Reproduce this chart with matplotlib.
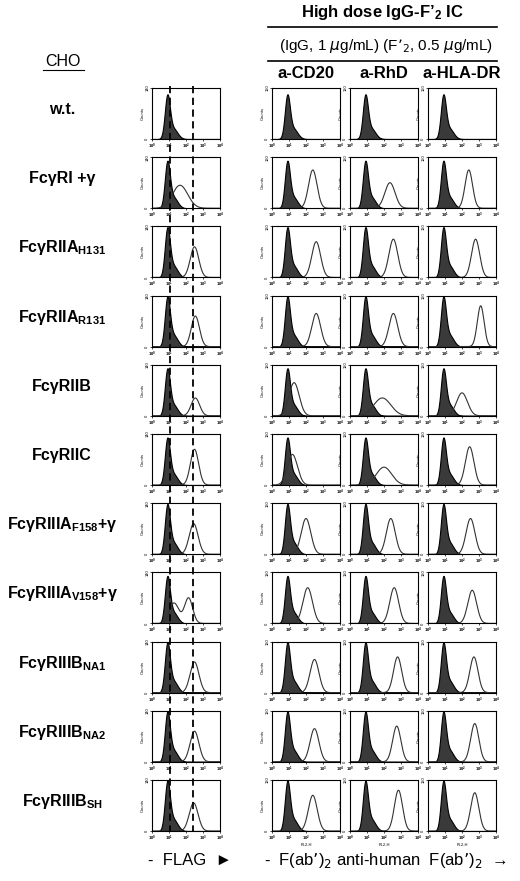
import matplotlib.pyplot as plt
import numpy as np

plt.rcParams['font.family'] = ['Liberation Sans', 'DejaVu Sans']
plt.rcParams['mathtext.fontset'] = 'custom'
plt.rcParams['mathtext.rm'] = 'Liberation Sans:bold'
plt.rcParams['mathtext.it'] = 'Liberation Sans:bold:italic'

rows = ["w.t.", "FcγRI +γ", "FcγRIIA$_{\\mathrm{H131}}$", "FcγRIIA$_{\\mathrm{R131}}$",
        "FcγRIIB", "FcγRIIC", "FcγRIIIA$_{\\mathrm{F158}}$+γ", "FcγRIIIA$_{\\mathrm{V158}}$+γ",
        "FcγRIIIB$_{\\mathrm{NA1}}$", "FcγRIIIB$_{\\mathrm{NA2}}$", "FcγRIIIB$_{\\mathrm{SH}}$"]
columns = ["a-CD20", "a-RhD", "a-HLA-DR"]

# filled (control) peak: position (log10) and height
ctrl_pos = [0.9, 0.9, 0.9, 0.9, 0.9, 0.9, 0.9, 0.9, 0.9, 0.9, 0.9]
ctrl_height = [0.8, 0.85, 0.9, 0.9, 0.85, 0.85, 0.9, 0.85, 0.9, 0.9, 0.9]

# open (stained) peaks per panel: list of (pos, width, height); 4 panels per row
open_peaks = [
    [[], [], [], []],
    [[(1.65, 0.45, 0.45)], [(2.4, 0.25, 0.75)], [(2.35, 0.3, 0.5)], [(2.4, 0.22, 0.75)]],
    [[(2.5, 0.25, 0.6)], [(2.6, 0.26, 0.7)], [(2.55, 0.26, 0.75)], [(2.8, 0.24, 0.75)]],
    [[(2.55, 0.24, 0.6)], [(2.6, 0.26, 0.65)], [(2.55, 0.26, 0.65)], [(3.1, 0.2, 0.8)]],
    [[(2.55, 0.25, 0.35)], [(1.3, 0.3, 0.65)], [(1.9, 0.5, 0.35)], [(2.0, 0.32, 0.45)]],
    [[(2.5, 0.24, 0.7)], [(1.2, 0.3, 0.6)], [(2.0, 0.45, 0.35)], [(2.45, 0.25, 0.75)]],
    [[(2.45, 0.26, 0.6)], [(2.0, 0.28, 0.7)], [(2.4, 0.26, 0.7)], [(2.5, 0.26, 0.7)]],
    [[(1.3, 0.28, 0.4), (2.15, 0.24, 0.5)], [(2.1, 0.28, 0.7)], [(2.6, 0.26, 0.7)], [(2.6, 0.26, 0.65)]],
    [[(2.5, 0.26, 0.6)], [(2.5, 0.26, 0.65)], [(2.8, 0.24, 0.7)], [(2.7, 0.24, 0.7)]],
    [[(2.5, 0.26, 0.6)], [(2.5, 0.26, 0.65)], [(2.75, 0.24, 0.7)], [(2.75, 0.24, 0.75)]],
    [[(2.45, 0.26, 0.55)], [(2.4, 0.26, 0.7)], [(2.85, 0.24, 0.8)], [(2.75, 0.24, 0.75)]],
]
ymax_labels = ["140", "120", "120", "120"]

W, H = 520, 881
fig = plt.figure(figsize=(W / 100, H / 100), dpi=100)
col_x = [152, 272, 350, 428]
pw, ph = 68, 51
row_y0, pitch = 88, 69.2
x = np.linspace(0, 4, 400)


def bump(pos, w, h):
    return h * np.exp(-0.5 * ((x - pos) / w) ** 2)


for r in range(len(rows)):
    top = row_y0 + r * pitch
    for c in range(4):
        ax = fig.add_axes([col_x[c] / W, 1 - (top + ph) / H, pw / W, ph / H])
        ctrl = bump(ctrl_pos[r], 0.15, ctrl_height[r]) + bump(ctrl_pos[r] + 0.35, 0.25, ctrl_height[r] * 0.25)
        ax.fill_between(x, 0, ctrl, color='#3a3a3a', lw=0.8, edgecolor='black')
        if open_peaks[r][c]:
            op = sum(bump(*p) for p in open_peaks[r][c])
            ax.plot(x, op, color='#333333', lw=0.8)
        ax.set_xlim(0, 4)
        ax.set_ylim(0, 1)
        ax.set_xticks(range(5))
        ax.set_xticklabels([f"$10^{k}$" for k in range(5)], fontsize=3)
        ax.set_yticks([0, 1])
        ax.set_yticklabels(["0", ymax_labels[c]], fontsize=3, rotation=90, va='center')
        ax.tick_params(length=1.5, width=0.5, pad=0.5)
        ax.set_ylabel("Counts", fontsize=3, labelpad=0)
        for s in ax.spines.values():
            s.set_linewidth(0.8)
        if r == len(rows) - 1 and c > 0:
            ax.set_xlabel("FL2-H", fontsize=3, labelpad=0)
    fig.text(62 / W, 1 - (top + ph / 2 - 4) / H, rows[r], ha='center', va='center',
             fontsize=11.5, fontweight='bold')

# dashed reference lines across the FLAG column
ov = fig.add_axes([col_x[0] / W, 0, pw / W, 1], facecolor='none')
ov.set_xlim(0, 4)
ov.set_ylim(H, 0)
ov.axis('off')
y_bot = row_y0 + 10 * pitch + ph
for xv in [1.05, 2.4]:
    ov.plot([xv, xv], [row_y0 - 2, y_bot], color='black', lw=1.3, ls=(0, (4, 2.5)))

fig.text(63 / W, 1 - 62 / H, "CHO", ha='center', va='center', fontsize=11.5)
fig.add_artist(plt.Line2D([43 / W, 84 / W], [1 - 70 / H] * 2, color='black', lw=0.8))

fig.text(382 / W, 1 - 12 / H, "High dose IgG-F’$_2$ IC", ha='center', va='center',
         fontsize=12, fontweight='bold')
fig.add_artist(plt.Line2D([268 / W, 497 / W], [1 - 27 / H] * 2, color='black', lw=1.2))
fig.text(386 / W, 1 - 46 / H, "(IgG, 1 $\\mu$g/mL) (F’$_2$, 0.5 $\\mu$g/mL)", ha='center',
         va='center', fontsize=11, math_fontfamily='dejavusans')
fig.add_artist(plt.Line2D([268 / W, 497 / W], [1 - 61 / H] * 2, color='black', lw=1.2))
for c, name in enumerate(columns):
    fig.text((col_x[c + 1] + pw / 2) / W, 1 - 74 / H, name, ha='center', va='center',
             fontsize=12, fontweight='bold')

fig.text(190 / W, 1 - 860 / H, "-  FLAG  ►", ha='center', va='center', fontsize=12)
fig.text(385 / W, 1 - 860 / H, "-  F(ab’)$_2$ anti-human  F(ab’)$_2$  →", ha='center',
         va='center', fontsize=12, math_fontfamily='dejavusans')

fig.savefig("out.png", dpi=100)
